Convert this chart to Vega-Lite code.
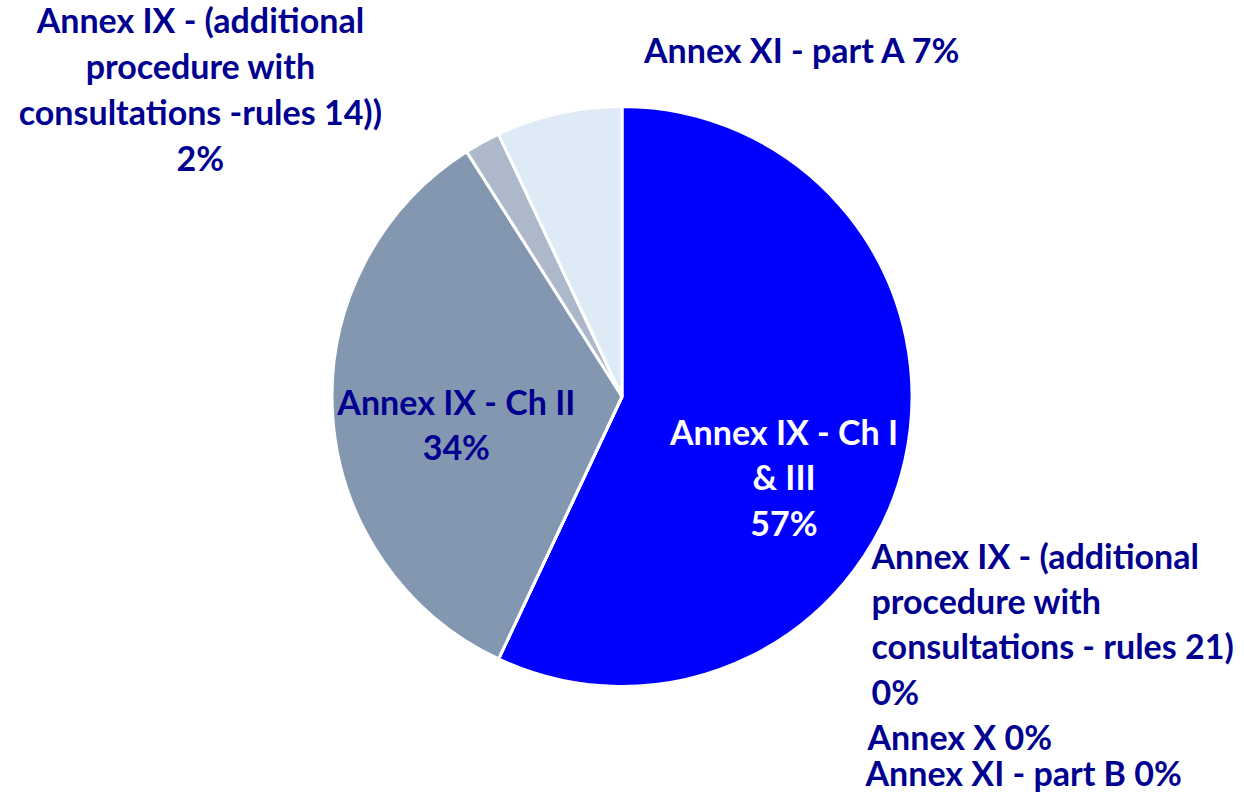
{
  "$schema": "https://vega.github.io/schema/vega-lite/v6.json",
  "width": 1244,
  "height": 793,
  "autosize": "none",
  "padding": 0,
  "background": "white",
  "config": {"view": {"stroke": null}},
  "data": {
    "values": [
      {"order": 1, "cat": "Annex IX - Ch I & III", "value": 57, "label": ["Annex IX - Ch I", "& III", "57%"]},
      {"order": 2, "cat": "Annex IX - (additional procedure with consultations - rules 21)", "value": 0, "label": ["Annex IX - (additional", "procedure with", "consultations - rules 21)", "0%"]},
      {"order": 3, "cat": "Annex X", "value": 0, "label": ["Annex X 0%"]},
      {"order": 4, "cat": "Annex XI - part B", "value": 0, "label": ["Annex XI - part B 0%"]},
      {"order": 5, "cat": "Annex IX - Ch II", "value": 34, "label": ["Annex IX - Ch II", "34%"]},
      {"order": 6, "cat": "Annex IX - (additional procedure with consultations -rules 14))", "value": 2, "label": ["Annex IX - (additional", "procedure with", "consultations -rules 14))", "2%"]},
      {"order": 7, "cat": "Annex XI - part A", "value": 7, "label": ["Annex XI - part A 7%"]}
    ]
  },
  "encoding": {
    "theta": {"field": "value", "type": "quantitative", "stack": true},
    "order": {"field": "order", "type": "quantitative"}
  },
  "layer": [
    {
      "mark": {"type": "arc", "outerRadius": 290, "stroke": "white", "strokeWidth": 3},
      "encoding": {
        "color": {
          "field": "cat",
          "type": "nominal",
          "legend": null,
          "scale": {
            "domain": ["Annex IX - Ch I & III", "Annex IX - (additional procedure with consultations - rules 21)", "Annex X", "Annex XI - part B", "Annex IX - Ch II", "Annex IX - (additional procedure with consultations -rules 14))", "Annex XI - part A"],
            "range": ["#0000FF", "#4472C4", "#5B9BD5", "#A5A5A5", "#8497B0", "#ADB9CA", "#DEEBF7"]
          }
        }
      }
    },
    {
      "mark": {"type": "text", "radius": 166, "dy": 2, "align": "center", "baseline": "middle", "font": "Lato", "fontWeight": "bold", "fontSize": 34, "lineHeight": 45.5, "color": "white"},
      "encoding": {"text": {"condition": {"test": "datum.order == 1", "field": "label"}, "value": ""}}
    },
    {
      "mark": {"type": "text", "radius": 166, "dy": -2, "align": "center", "baseline": "middle", "font": "Lato", "fontWeight": "bold", "fontSize": 34, "lineHeight": 45.5, "color": "#000090"},
      "encoding": {"text": {"condition": {"test": "datum.order == 5", "field": "label"}, "value": ""}}
    },
    {
      "mark": {"type": "text", "radius": 350, "dx": -253, "dy": -67, "align": "center", "baseline": "middle", "font": "Lato", "fontWeight": "bold", "fontSize": 34, "lineHeight": 46, "color": "#000090"},
      "encoding": {"text": {"condition": {"test": "datum.order == 6", "field": "label"}, "value": ""}}
    },
    {
      "mark": {"type": "text", "radius": 350, "dx": 256, "dy": -2, "align": "center", "baseline": "middle", "font": "Lato", "fontWeight": "bold", "fontSize": 34, "lineHeight": 45, "color": "#000090"},
      "encoding": {"text": {"condition": {"test": "datum.order == 7", "field": "label"}, "value": ""}}
    },
    {
      "mark": {"type": "text", "radius": 290, "dx": 373, "dy": -100, "align": "left", "baseline": "middle", "font": "Lato", "fontWeight": "bold", "fontSize": 34, "lineHeight": 45.3, "color": "#000090"},
      "encoding": {"text": {"condition": {"test": "datum.order == 2", "field": "label"}, "value": ""}}
    },
    {
      "mark": {"type": "text", "radius": 290, "dx": 369, "dy": 81, "align": "left", "baseline": "middle", "font": "Lato", "fontWeight": "bold", "fontSize": 34, "lineHeight": 45, "color": "#000090"},
      "encoding": {"text": {"condition": {"test": "datum.order == 3", "field": "label"}, "value": ""}}
    },
    {
      "mark": {"type": "text", "radius": 290, "dx": 367, "dy": 117, "align": "left", "baseline": "middle", "font": "Lato", "fontWeight": "bold", "fontSize": 34, "lineHeight": 45, "color": "#000090"},
      "encoding": {"text": {"condition": {"test": "datum.order == 4", "field": "label"}, "value": ""}}
    }
  ]
}
